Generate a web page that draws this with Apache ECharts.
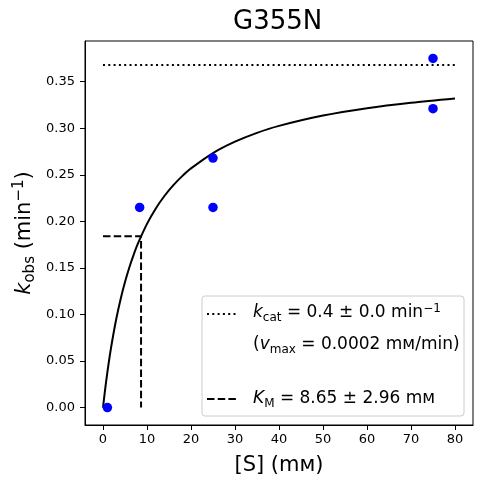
<!DOCTYPE html>
<html>
<head>
<meta charset="utf-8">
<script src="https://cdn.jsdelivr.net/npm/echarts@6/dist/echarts.min.js"></script>
<style>html,body{margin:0;padding:0;background:#fff}#c{width:482px;height:484px}</style>
</head>
<body>
<div id="c"></div>
<script>
// Measured data points
const substrate = [1, 8.33, 25, 25, 75, 75];
const kobs = [0, 0.215, 0.268, 0.215, 0.375, 0.321];
// Fitted curve
const curveX = [0, 0.5, 1, 1.5, 2, 3, 4, 5, 6, 7, 8, 10, 12, 14, 16, 18, 20, 25, 30, 35, 40, 50, 60, 70, 80];
const curveY = [0, 0.0201, 0.0381, 0.0544, 0.0691, 0.0948, 0.1164, 0.1348, 0.1507, 0.1646, 0.1768, 0.1973, 0.2139, 0.2275, 0.2389, 0.2486, 0.2569, 0.2734, 0.2856, 0.2951, 0.3026, 0.3137, 0.3216, 0.3275, 0.3321];
// Reference lines
const kcatX = [0, 80];
const kcatY = [0.368, 0.368];
const kmX = [0, 8.65, 8.65];
const kmY = [0.184, 0.184, 0];
// Tick labels
const xTicks = [0, 10, 20, 30, 40, 50, 60, 70, 80];
const yTicks = [0, 0.05, 0.1, 0.15, 0.2, 0.25, 0.3, 0.35];

const FONT = '"DejaVu Sans", sans-serif';
const pairs = (xs, ys) => xs.map((x, i) => [x, ys[i]]);

const chart = echarts.init(document.getElementById('c'), null, {renderer: 'canvas'});
const sub = {fontFamily: FONT, fontSize: 12, verticalAlign: 'bottom', lineHeight: 16, padding: [0, 0, 0, 0]};
const sup = {fontFamily: FONT, fontSize: 12, verticalAlign: 'top', lineHeight: 16, padding: [0, 0, 0, 0]};
const DOT = [2, 3.3], DASH = [7.5, 3.2];

chart.setOption({
  animation: false,
  grid: {left: 85, right: 9, top: 41, bottom: 59, containLabel: false, outerBoundsMode: 'none',
    show: true, borderColor: '#000', borderWidth: 1, backgroundColor: 'transparent'},
  xAxis: {
    type: 'value', min: -4.09, max: 84.09,
    axisLine: {onZero: false, lineStyle: {color: '#000', width: 1}},
    axisTick: {show: true, length: 5, customValues: xTicks, lineStyle: {color: '#000'}},
    axisLabel: {customValues: xTicks, color: '#000', fontFamily: FONT, fontSize: 13, margin: 8, formatter: v => String(Math.round(v))},
    splitLine: {show: false},
    name: '[S] (mᴍ)', nameLocation: 'middle', nameGap: 30, nameMoveOverlap: false,
    nameTextStyle: {color: '#000', fontFamily: FONT, fontSize: 21}
  },
  yAxis: {
    type: 'value', min: -0.01875, max: 0.39375,
    axisLine: {show: true, onZero: false, lineStyle: {color: '#000', width: 1}},
    axisTick: {show: true, length: 5, customValues: yTicks, lineStyle: {color: '#000'}},
    axisLabel: {customValues: yTicks, color: '#000', fontFamily: FONT, fontSize: 13, margin: 10, formatter: v => v.toFixed(2)},
    splitLine: {show: false},
    name: '{i|k}{s|obs} (min{p|−1})', nameLocation: 'middle', nameGap: 47, nameMoveOverlap: false,
    nameTextStyle: {color: '#000', fontFamily: FONT, fontSize: 21, lineHeight: 26,
      rich: {
        i: {fontFamily: FONT, fontSize: 21, fontStyle: 'italic', color: '#000', lineHeight: 26},
        s: Object.assign({}, sub, {fontSize: 15, color: '#000', lineHeight: 20}),
        p: Object.assign({}, sup, {fontSize: 15, color: '#000', lineHeight: 20})
      }}
  },
  series: [
    {type: 'line', data: pairs(kcatX, kcatY), showSymbol: false, silent: true,
      lineStyle: {color: '#000', width: 2, type: DOT}, z: 2},
    {type: 'line', data: pairs(kmX, kmY), showSymbol: false, silent: true,
      lineStyle: {color: '#000', width: 2, type: DASH}, z: 2},
    {type: 'line', data: pairs(curveX, curveY), showSymbol: false, smooth: 0.3, silent: true,
      lineStyle: {color: '#000', width: 2}, z: 3},
    {type: 'scatter', data: pairs(substrate, kobs), symbol: 'circle', symbolSize: 9.5,
      itemStyle: {color: '#0000ff', opacity: 1}, z: 4}
  ],
  graphic: [
    {type: 'text', left: 279 - 46, top: 9, z: 10,
      style: {text: 'G355N', font: '26px ' + FONT, fill: '#000'}},
    {type: 'rect', shape: {x: 202, y: 296, width: 262, height: 120, r: 3}, z: 10,
      style: {fill: 'rgba(255,255,255,0.8)', stroke: '#cccccc', lineWidth: 1}},
    {type: 'line', shape: {x1: 207, y1: 314, x2: 238, y2: 314}, z: 11,
      style: {stroke: '#000', lineWidth: 2, lineDash: DOT}},
    {type: 'line', shape: {x1: 207, y1: 399, x2: 238, y2: 399}, z: 11,
      style: {stroke: '#000', lineWidth: 2, lineDash: DASH}},
    {type: 'text', x: 253, y: 313, z: 11,
      style: {text: '{i|k}{s|cat} = 0.4 ± 0.0 min{p|−1}', fill: '#000', font: '17px ' + FONT, verticalAlign: 'middle', lineHeight: 21,
        rich: {i: {fontFamily: FONT, fontSize: 17, fontStyle: 'italic', lineHeight: 21}, s: sub, p: sup}}},
    {type: 'text', x: 253, y: 345, z: 11,
      style: {text: '({i|v}{s|max} = 0.0002 mᴍ/min)', fill: '#000', font: '17px ' + FONT, verticalAlign: 'middle', lineHeight: 21,
        rich: {i: {fontFamily: FONT, fontSize: 17, fontStyle: 'italic', lineHeight: 21}, s: sub}}},
    {type: 'text', x: 253, y: 399, z: 11,
      style: {text: '{i|K}{s|M} = 8.65 ± 2.96 mᴍ', fill: '#000', font: '17px ' + FONT, verticalAlign: 'middle', lineHeight: 21,
        rich: {i: {fontFamily: FONT, fontSize: 17, fontStyle: 'italic', lineHeight: 21}, s: sub}}}
  ]
});
</script>
</body>
</html>
